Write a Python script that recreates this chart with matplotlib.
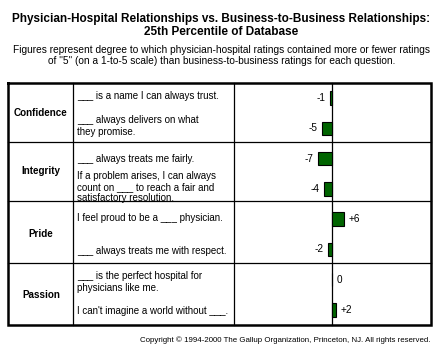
import matplotlib
matplotlib.use("Agg")
import matplotlib.pyplot as plt

plt.rcParams["font.family"] = ["Liberation Sans", "DejaVu Sans"]

categories = ["Confidence", "Integrity", "Pride", "Passion"]
questions = [
    "___ is a name I can always trust.",
    "___ always delivers on what\nthey promise.",
    "___ always treats me fairly.",
    "If a problem arises, I can always\ncount on ___ to reach a fair and\nsatisfactory resolution.",
    "I feel proud to be a ___ physician.",
    "___ always treats me with respect.",
    "___ is the perfect hospital for\nphysicians like me.",
    "I can't imagine a world without ___.",
]
values = [-1, -5, -7, -4, 6, -2, 0, 2]
value_labels = ["-1", "-5", "-7", "-4", "+6", "-2", "0", "+2"]

W, H = 440, 350
fig = plt.figure(figsize=(W / 100, H / 100), dpi=100)

# pixel-space layer for titles, grid lines and table text
lay = fig.add_axes([0, 0, 1, 1])
lay.set_xlim(0, W)
lay.set_ylim(H, 0)
lay.axis("off")

lay.text(221, 19, "Physician-Hospital Relationships vs. Business-to-Business Relationships:",
         ha="center", va="center", fontsize=8.5, fontweight="bold")
lay.text(221, 32, "25th Percentile of Database", ha="center", va="center",
         fontsize=8.5, fontweight="bold")
lay.text(221.5, 50, "Figures represent degree to which physician-hospital ratings contained more or fewer ratings",
         ha="center", va="center", fontsize=7.3)
lay.text(221.5, 61, 'of "5" (on a 1-to-5 scale) than business-to-business ratings for each question.',
         ha="center", va="center", fontsize=7.3)
lay.text(430, 340, "Copyright \u00a9 1994-2000 The Gallup Organization, Princeton, NJ. All rights reserved.",
         ha="right", va="center", fontsize=5.65)

left, right, top, bottom = 8, 431, 83, 325
c1, c2, c0 = 73, 234, 332

lay.plot([left, right, right, left, left], [top, top, bottom, bottom, top],
         color="black", lw=1.8, solid_joinstyle="miter")
for x in (c1, c2, c0):
    lay.plot([x, x], [top, bottom], color="black", lw=0.9)
for y in (142, 201, 263):
    lay.plot([left, right], [y, y], color="black", lw=0.9)

cat_y = [113, 171, 234, 294.5]
for name, y in zip(categories, cat_y):
    lay.text((left + c1) / 2 + 0.5, y, name, ha="center", va="center",
             fontsize=7.1, fontweight="bold")
q_y = [96, 126, 158.5, 187, 218, 250.5, 282, 311.5]
for q, y in zip(questions, q_y):
    lay.text(77, y, q, ha="left", va="center", fontsize=7.0, linespacing=1.15)

# bar axes: zero at x=332, 2 px per unit
ax = fig.add_axes([c2 / W, 1 - bottom / H, (right - c2) / W, (bottom - top) / H])
ax.set_xlim(-(c0 - c2) / 2, (right - c0) / 2)
ax.set_ylim(len(values) - 0.5, -0.5)
ax.axis("off")
ax.patch.set_alpha(0)

pos = range(len(values))
ax.barh(pos, values, height=0.45, color="#006400", edgecolor="black", lw=0.8)
for i, (v, lab) in enumerate(zip(values, value_labels)):
    if v < 0:
        ax.annotate(lab, (v, i), xytext=(-3.5, 0), textcoords="offset points",
                    ha="right", va="center", fontsize=7.2)
    else:
        ax.annotate(lab, (v, i), xytext=(3.5, 0), textcoords="offset points",
                    ha="left", va="center", fontsize=7.2)

fig.savefig("out.png", dpi=100)
